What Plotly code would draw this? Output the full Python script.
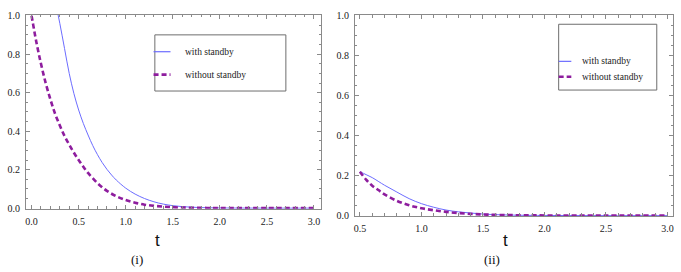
import plotly.graph_objects as go

# ---------------- data ----------------
series_names = ["with standby", "without standby"]
panel_labels = ["(i)", "(ii)"]
axis_title = "t"

# panel (i)
t_i_with = [0.25, 0.3, 0.35, 0.4, 0.45, 0.5, 0.55, 0.6, 0.65, 0.7, 0.75, 0.8, 0.85, 0.9, 1.0, 1.1, 1.2, 1.3, 1.4, 1.5, 1.6, 1.7, 1.8, 2.0, 2.5, 3.0]
y_i_with = [1.08, 0.96, 0.83, 0.70, 0.595, 0.51, 0.44, 0.38, 0.325, 0.278, 0.237, 0.202, 0.172, 0.146, 0.104, 0.073, 0.05, 0.033, 0.021, 0.013, 0.008, 0.005, 0.003, 0.001, 0.0, 0.0]
t_i_without = [0.0, 0.05, 0.1, 0.15, 0.2, 0.25, 0.3, 0.35, 0.4, 0.45, 0.5, 0.55, 0.6, 0.7, 0.8, 0.9, 1.0, 1.1, 1.2, 1.3, 1.4, 1.5, 1.6, 1.8, 2.0, 2.5, 3.0]
y_i_without = [1.0, 0.865, 0.75, 0.65, 0.565, 0.49, 0.43, 0.375, 0.33, 0.288, 0.25, 0.215, 0.183, 0.13, 0.09, 0.062, 0.042, 0.028, 0.018, 0.012, 0.008, 0.005, 0.003, 0.0015, 0.0005, 0.0, 0.0]

# panel (ii)
t_ii_with = [0.5, 0.55, 0.6, 0.7, 0.8, 0.9, 1.0, 1.1, 1.2, 1.3, 1.4, 1.5, 1.6, 1.8, 2.0, 2.5, 3.0]
y_ii_with = [0.22, 0.205, 0.19, 0.152, 0.118, 0.085, 0.06, 0.042, 0.028, 0.019, 0.013, 0.008, 0.005, 0.002, 0.001, 0.0, 0.0]
t_ii_without = [0.5, 0.55, 0.6, 0.65, 0.7, 0.8, 0.9, 1.0, 1.1, 1.2, 1.3, 1.4, 1.5, 1.6, 1.8, 2.0, 2.5, 3.0]
y_ii_without = [0.22, 0.18, 0.15, 0.128, 0.106, 0.074, 0.052, 0.037, 0.027, 0.019, 0.013, 0.009, 0.006, 0.004, 0.002, 0.001, 0.0, 0.0]

# ---------------- style ----------------
W, H = 681, 272
C_WITH = "#6c6cff"
C_WITHOUT = "#8e1d9e"
FRAME = "#8a8a8a"
SERIF = "Liberation Serif, Times New Roman, serif"
SANS = "Liberation Sans, Arial, sans-serif"
DASH = "5px,3px"


def px(x):
    return x / W


def py(y):
    return 1 - y / H


fig = go.Figure()
fig.add_trace(go.Scatter(x=t_i_with, y=y_i_with, mode="lines", name=series_names[0],
                         line=dict(color=C_WITH, width=1, shape="spline", smoothing=1.0),
                         xaxis="x", yaxis="y", showlegend=False))
fig.add_trace(go.Scatter(x=t_i_without, y=y_i_without, mode="lines", name=series_names[1],
                         line=dict(color=C_WITHOUT, width=2.6, dash=DASH, shape="spline", smoothing=1.0),
                         xaxis="x", yaxis="y", showlegend=False))
fig.add_trace(go.Scatter(x=t_ii_with, y=y_ii_with, mode="lines", name=series_names[0],
                         line=dict(color=C_WITH, width=1, shape="spline", smoothing=1.0),
                         xaxis="x2", yaxis="y2", showlegend=False))
fig.add_trace(go.Scatter(x=t_ii_without, y=y_ii_without, mode="lines", name=series_names[1],
                         line=dict(color=C_WITHOUT, width=2.6, dash=DASH, shape="spline", smoothing=1.0),
                         xaxis="x2", yaxis="y2", showlegend=False))

tickfont = dict(family=SERIF, size=10, color="#222")
common = dict(showline=True, linecolor=FRAME, linewidth=1, mirror="allticks",
              ticks="inside", ticklen=4, tickcolor=FRAME, tickwidth=1,
              showgrid=False, zeroline=False, tickfont=tickfont, ticklabelstandoff=3)

fig.update_layout(
    width=W, height=H, margin=dict(l=0, r=0, t=0, b=0),
    paper_bgcolor="white", plot_bgcolor="white", showlegend=False,
    xaxis=dict(domain=[px(25), px(321)], range=[-0.06, 3.075], dtick=0.5, tick0=0,
               tickformat=".1f", anchor="y",
               minor=dict(ticks="inside", dtick=0.1, ticklen=2.5, tickcolor=FRAME), **common),
    yaxis=dict(domain=[py(211.5), py(10.3)], range=[-0.003, 1.004], dtick=0.2, tick0=0,
               tickformat=".1f", anchor="x",
               minor=dict(ticks="inside", dtick=0.05, ticklen=2.5, tickcolor=FRAME), **common),
    xaxis2=dict(domain=[px(355), px(674)], range=[0.4595, 3.045], dtick=0.5, tick0=0,
                tickformat=".1f", anchor="y2",
                minor=dict(ticks="inside", dtick=0.1, ticklen=2.5, tickcolor=FRAME), **common),
    yaxis2=dict(domain=[py(219), py(10.7)], range=[-0.0015, 1.0015], dtick=0.2, tick0=0,
                tickformat=".1f", anchor="x2",
                minor=dict(ticks="inside", dtick=0.05, ticklen=2.5, tickcolor=FRAME), **common),
)

shapes = []
annotations = []

# axis titles and panel labels
for xc, lab in [(136, panel_labels[0]), (492, panel_labels[1])]:
    annotations.append(dict(text=lab, x=px(xc), y=py(264), xref="paper", yref="paper",
                            showarrow=False, font=dict(family=SERIF, size=13, color="#111"),
                            xanchor="center", yanchor="middle"))
for xc in [157, 506]:
    annotations.append(dict(text=axis_title, x=px(xc), y=py(245), xref="paper", yref="paper",
                            showarrow=False, font=dict(family=SANS, size=17, color="#111"),
                            xanchor="center", yanchor="middle"))

# manual legends: (box x0, y0, x1, y1, sample x0, sample x1, text x, row y's)
legends = [
    (154.3, 31, 285.7, 89.3, 153, 170, 183, [48.5, 72.3]),
    (559.3, 20, 657.7, 88.3, 559.3, 572, 581, [58.5, 74.5]),
]
for bx0, by0, bx1, by1, sx0, sx1, tx, rows in legends:
    shapes.append(dict(type="rect", xref="paper", yref="paper",
                       x0=px(bx0), x1=px(bx1), y0=py(by1), y1=py(by0),
                       line=dict(color="#6e6e6e", width=1), fillcolor="rgba(0,0,0,0)"))
    for i, ry in enumerate(rows):
        if i == 0:
            ln = dict(color=C_WITH, width=1.2)
        else:
            ln = dict(color=C_WITHOUT, width=2.6, dash=DASH)
        shapes.append(dict(type="line", xref="paper", yref="paper",
                           x0=px(sx0), x1=px(sx1), y0=py(ry), y1=py(ry), line=ln))
        annotations.append(dict(text=series_names[i], x=px(tx), y=py(ry), xref="paper", yref="paper",
                                showarrow=False, xanchor="left", yanchor="middle",
                                font=dict(family=SERIF, size=9.5, color="#222")))

fig.update_layout(shapes=shapes, annotations=annotations)
fig.write_html("out.html", config={"displayModeBar": False},
               post_script="document.body.style.margin='0';document.body.style.padding='0';"
                           "document.documentElement.style.overflow='hidden';")
